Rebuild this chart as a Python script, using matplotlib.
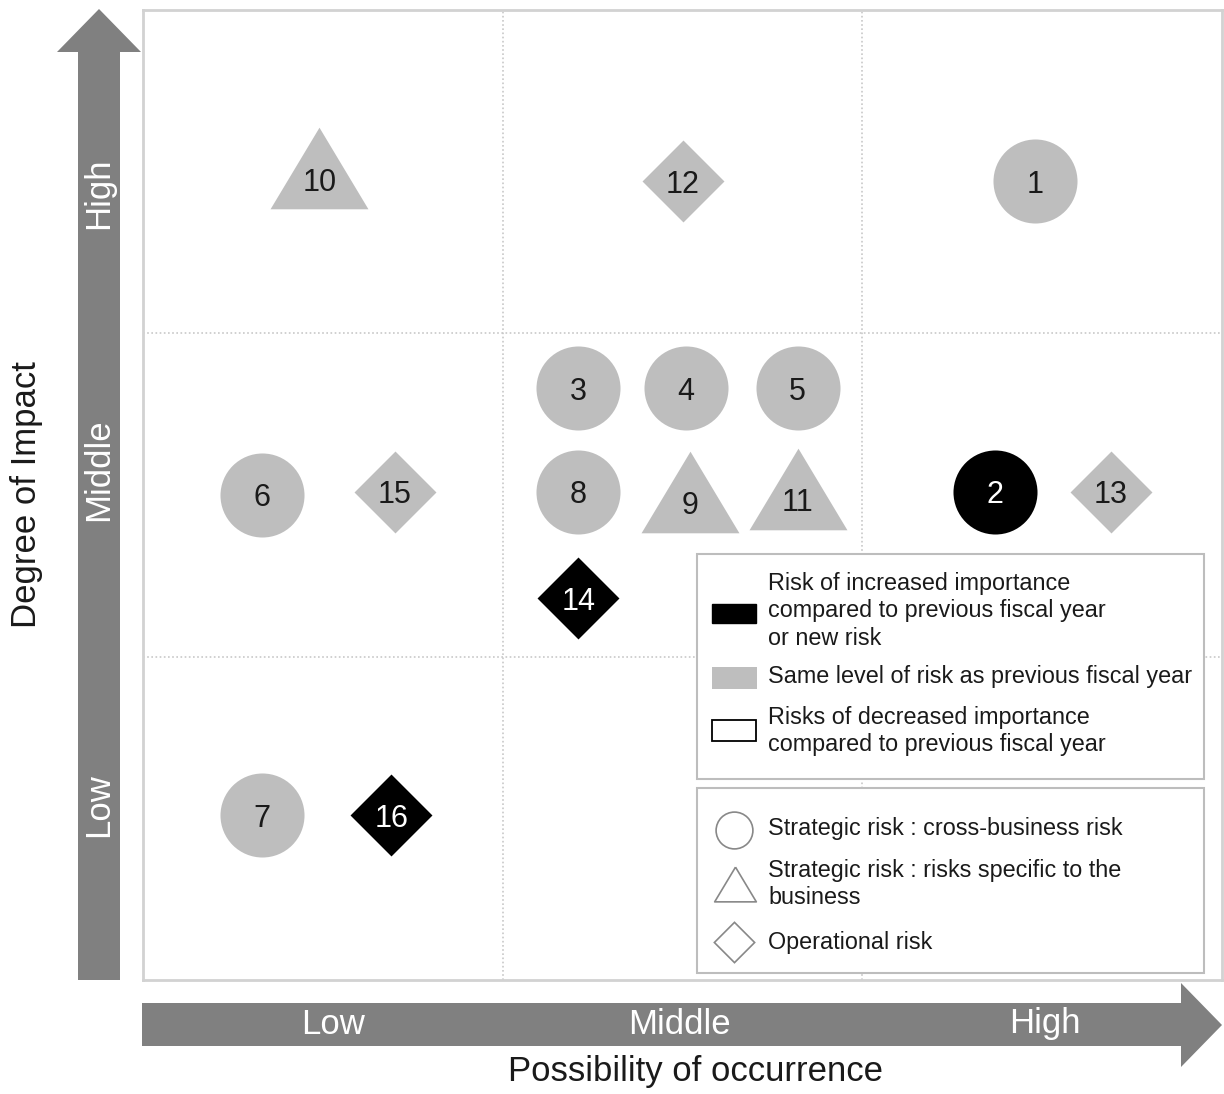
import matplotlib
matplotlib.use("Agg")
import matplotlib.pyplot as plt
from matplotlib.patches import Polygon, Rectangle

plt.rcParams['font.family'] = ['Liberation Sans', 'DejaVu Sans']

# Риски: номер, вероятность (x), влияние (y) в координатах сетки 0..3
risk_ids = [1, 2, 3, 4, 5, 6, 7, 8, 9, 10, 11, 12, 13, 14, 15, 16]
possibility = [2.48, 2.37, 1.21, 1.51, 1.82, 0.33, 0.33, 1.21, 1.52, 0.49, 1.82, 1.50, 2.69, 1.21, 0.70, 0.69]
impact = [2.47, 1.51, 1.83, 1.83, 1.83, 1.50, 0.51, 1.51, 1.51, 2.51, 1.52, 2.47, 1.51, 1.18, 1.51, 0.51]
risk_type = ['circle', 'circle', 'circle', 'circle', 'circle', 'circle', 'circle', 'circle',
             'triangle', 'triangle', 'triangle',
             'diamond', 'diamond', 'diamond', 'diamond', 'diamond']
risk_status = ['same', 'increased', 'same', 'same', 'same', 'same', 'same', 'same',
               'same', 'same', 'same', 'same', 'same', 'increased', 'same', 'increased']

levels = ['Low', 'Middle', 'High']

legend_status = ['Risk of increased importance\ncompared to previous fiscal year\nor new risk',
                 'Same level of risk as previous fiscal year',
                 'Risks of decreased importance\ncompared to previous fiscal year']
legend_types = ['Strategic risk : cross-business risk',
                'Strategic risk : risks specific to the\nbusiness',
                'Operational risk']

tri = [(0, 1), (-1.2, -1), (1.2, -1), (0, 1)]
marker_map = {'circle': ('o', 60.5), 'triangle': (tri, 70.5), 'diamond': ((4, 0, 0), 59)}
fill_map = {'increased': 'black', 'same': '#bebebe', 'decreased': 'white'}
text_map = {'increased': 'white', 'same': '#1a1a1a', 'decreased': '#1a1a1a'}
GRAY = '#808080'

fig = plt.figure(figsize=(12.24, 10.94), dpi=100)
W, H = 1224, 1094
ax = fig.add_axes([143 / W, (H - 980) / H, 1079 / W, 970 / H])
ax.set_xlim(0, 3)
ax.set_ylim(0, 3)
ax.set_xticks([1, 2])
ax.set_yticks([1, 2])
ax.tick_params(length=0, labelbottom=False, labelleft=False)
ax.grid(True, linestyle=(0, (1, 1.5)), color='#c8c8c8', linewidth=1.2)
for sp in ax.spines.values():
    sp.set_color('#d2d2d2')
    sp.set_linewidth(2)

for rid, x, y, t, s in zip(risk_ids, possibility, impact, risk_type, risk_status):
    m, ms = marker_map[t]
    ax.plot(x, y, marker=m, markersize=ms, color=fill_map[s], markeredgewidth=0,
            linestyle='none', zorder=3)
    dy = -8 if t == 'triangle' else 0
    ax.annotate(str(rid), (x, y), xytext=(0, dy), textcoords='offset points',
                ha='center', va='center_baseline', fontsize=22, color=text_map[s], zorder=4)

# Наложенные оси в пикселях для стрелок и легенды
ov = fig.add_axes([0, 0, 1, 1], zorder=5)
ov.set_xlim(0, W)
ov.set_ylim(H, 0)
ov.axis('off')

ov.add_patch(Polygon([(78, 980), (78, 52), (57, 52), (99, 9), (141, 52), (120, 52), (120, 980)],
                     closed=True, color=GRAY, lw=0))
ov.add_patch(Polygon([(142, 1003), (1181, 1003), (1181, 983), (1222, 1025), (1181, 1067),
                      (1181, 1046), (142, 1046)], closed=True, color=GRAY, lw=0))

for lab, yy in zip(levels, [805, 470, 193]):
    ov.text(99, yy, lab, rotation=90, ha='center', va='center', color='white', fontsize=25)
for lab, xx in zip(levels, [333, 679, 1045]):
    ov.text(xx, 1024, lab, ha='center', va='center', color='white', fontsize=25)

ov.text(27, 495, 'Degree of Impact', rotation=90, ha='center', va='center',
        fontsize=25, color='#1a1a1a')
ov.text(696, 1071, 'Possibility of occurrence', ha='center', va='center',
        fontsize=25, color='#1a1a1a')

# Легенда
ov.add_patch(Rectangle((697, 554), 507, 225, facecolor='white', edgecolor='#bdbdbd', lw=1.5))
ov.add_patch(Rectangle((697, 788), 507, 185, facecolor='white', edgecolor='#bdbdbd', lw=1.5))

ov.add_patch(Rectangle((712, 604), 44, 19, facecolor='black', edgecolor='black', lw=1))
ov.add_patch(Rectangle((712, 667), 45, 22, facecolor='#bebebe', lw=0))
ov.add_patch(Rectangle((712, 720), 44, 21, facecolor='white', edgecolor='black', lw=1.3))
for lab, yy in zip(legend_status, [611, 677, 731]):
    ov.text(768, yy, lab, ha='left', va='center', fontsize=16.8, color='#1a1a1a', linespacing=1.27)

ov.plot(734, 830, marker='o', markersize=26.5, markerfacecolor='white',
        markeredgecolor='#888888', markeredgewidth=1.2)
ov.plot(735, 884, marker=tri, markersize=30, markerfacecolor='white',
        markeredgecolor='#888888', markeredgewidth=1.2)
ov.plot(734, 942, marker=(4, 0, 0), markersize=29, markerfacecolor='white',
        markeredgecolor='#888888', markeredgewidth=1.2)
for lab, yy in zip(legend_types, [829, 884, 942]):
    ov.text(768, yy, lab, ha='left', va='center', fontsize=16.8, color='#1a1a1a', linespacing=1.27)

fig.savefig('out.png', dpi=100)
